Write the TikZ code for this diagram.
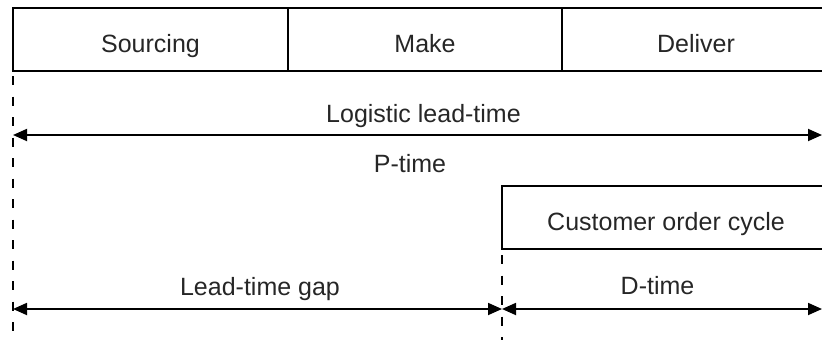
\documentclass[tikz,border=0pt]{standalone}
\usepackage{fontspec}
\setmainfont{Liberation Sans}
\usetikzlibrary{arrows.meta}
\begin{document}
\begin{tikzpicture}[x=1pt,y=-1pt,
  every node/.style={font=\fontsize{25}{30}\selectfont, text=black!85},
  phasebox/.style={draw=black, line width=1.8pt, minimum height=63pt,
    inner sep=0pt, outer sep=0pt, text height=25pt, text depth=0pt,
    anchor=north west},
  label/.style={anchor=base, inner sep=0pt},
  guide/.style={draw=black, line width=1.7pt, dash pattern=on 9pt off 11.5pt},
  span/.style={draw=black, line width=1.8pt,
    {Triangle[length=14pt,width=12pt]}-{Triangle[length=14pt,width=12pt]}}
]
\useasboundingbox (0,0) rectangle (822,340);
\clip (0,0) rectangle (822,340);

% phases of the supply chain
\node[phasebox, minimum width=275pt] (src) at (13,8) {Sourcing};
\node[phasebox, minimum width=274pt] (make) at (src.north east) {Make};
\node[phasebox, minimum width=268pt] (del) at (make.north east) {Deliver};

% customer order cycle
\node[phasebox, minimum width=328pt] (coc) at (502,186) {Customer order cycle};

% vertical reference lines
\coordinate (lbot) at (13,340);
\coordinate (mbot) at (502,340);
\draw[guide] ([yshift=-5pt]src.south west) -- (lbot);
\draw[guide] ([yshift=-6pt]coc.south west) -- (mbot);

% logistic lead-time / P-time
\coordinate (pl) at (13,135);
\coordinate (pr) at (822,135);
\draw[span] (pl) -- (pr);
\node[label] (llt) at (423.5,122) {Logistic lead-time};
\node[label] (pt) at (410,172) {P-time};

% lead-time gap and D-time
\coordinate (gl) at (13,309);
\coordinate (gm) at (502,309);
\coordinate (gr) at (822,309);
\draw[span] (gl) -- (gm);
\draw[span] (gm) -- (gr);
\node[label] (ltg) at (260,295) {Lead-time gap};
\node[label] (dt) at (657.5,294) {D-time};
\end{tikzpicture}
\end{document}
